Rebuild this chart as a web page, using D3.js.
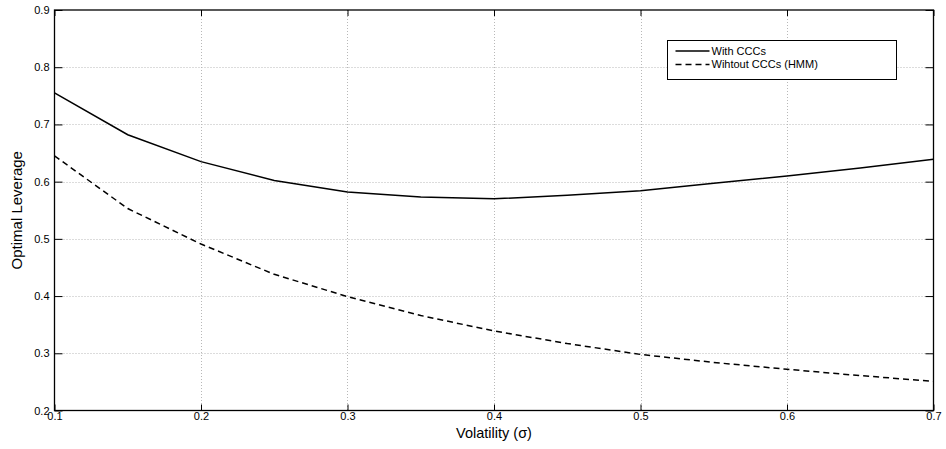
<!DOCTYPE html>
<html>
  <head>
    <meta charset="utf-8">
    <title>Optimal leverage vs volatility</title>
    <script src="https://d3js.org/d3.v7.min.js"></script>
    <style>
      body { margin: 0; background: #fff; }
      svg { display: block; font-family: "Liberation Sans", Arial, sans-serif; }
      .grid line { stroke: #b8b8b8; stroke-width: 1; stroke-dasharray: 1 2; }
      .tick text { font-size: 11px; fill: #000; }
    </style>
  </head>
  <body>
    <svg id="chart" width="946" height="449"></svg>
    <script>
      // chart data
      var sigma = [0.1, 0.15, 0.2, 0.25, 0.3, 0.35, 0.4, 0.45, 0.5, 0.55, 0.6, 0.65, 0.7];
      var withCCC = [0.755, 0.682, 0.635, 0.602, 0.582, 0.573, 0.570, 0.576, 0.584, 0.597, 0.610, 0.624, 0.639];
      var withoutCCC = [0.645, 0.553, 0.491, 0.438, 0.399, 0.366, 0.339, 0.317, 0.298, 0.284, 0.272, 0.261, 0.251];
      var xTicks = [0.1, 0.2, 0.3, 0.4, 0.5, 0.6, 0.7];
      var yTicks = [0.2, 0.3, 0.4, 0.5, 0.6, 0.7, 0.8, 0.9];
      var seriesNames = ["With CCCs", "Wihtout CCCs (HMM)"];

      var svg = d3.select("#chart");
      var margin = { left: 54.5, right: 12.5, top: 10, bottom: 38.5 };
      var width = 946, height = 449;

      var x = d3.scaleLinear().domain([0.1, 0.7]).range([margin.left, width - margin.right]);
      var y = d3.scaleLinear().domain([0.2, 0.9]).range([height - margin.bottom, margin.top]);

      // grid
      var grid = svg.append("g").classed("grid", true);
      grid.selectAll(".gx")
        .data(xTicks.slice(1, -1))
        .enter().append("line")
          .attr("x1", function(d) { return Math.round(x(d)) + 0.5; })
          .attr("x2", function(d) { return Math.round(x(d)) + 0.5; })
          .attr("y1", y(0.9)).attr("y2", y(0.2));
      grid.selectAll(".gy")
        .data(yTicks.slice(1, -1))
        .enter().append("line")
          .attr("y1", function(d) { return Math.round(y(d)) + 0.5; })
          .attr("y2", function(d) { return Math.round(y(d)) + 0.5; })
          .attr("x1", x(0.1)).attr("x2", x(0.7));

      // axes (ticks inside, box style)
      var fmt = d3.format(".1f");
      svg.append("g")
        .attr("transform", "translate(0," + y(0.2) + ")")
        .call(d3.axisBottom(x).tickValues(xTicks).tickFormat(fmt).tickSize(-6).tickPadding(2).tickSizeOuter(0))
        .call(function(g) { g.select(".domain").remove(); });
      svg.append("g")
        .attr("transform", "translate(0," + y(0.9) + ")")
        .call(d3.axisTop(x).tickValues(xTicks).tickFormat("").tickSize(-6).tickSizeOuter(0))
        .call(function(g) { g.select(".domain").remove(); });
      svg.append("g")
        .attr("transform", "translate(" + x(0.1) + ",0)")
        .call(d3.axisLeft(y).tickValues(yTicks).tickFormat(fmt).tickSize(-8).tickPadding(5).tickSizeOuter(0))
        .call(function(g) { g.select(".domain").remove(); });
      svg.append("g")
        .attr("transform", "translate(" + x(0.7) + ",0)")
        .call(d3.axisRight(y).tickValues(yTicks).tickFormat("").tickSize(-8).tickSizeOuter(0))
        .call(function(g) { g.select(".domain").remove(); });
      svg.selectAll(".tick line").attr("stroke", "#000");

      svg.append("rect")
        .attr("x", x(0.1)).attr("y", y(0.9))
        .attr("width", x(0.7) - x(0.1)).attr("height", y(0.2) - y(0.9))
        .attr("fill", "none").attr("stroke", "#000").attr("stroke-width", 1.3);

      // lines
      var line = d3.line()
        .x(function(d) { return x(d[0]); })
        .y(function(d) { return y(d[1]); });
      svg.append("path")
        .datum(d3.zip(sigma, withCCC))
        .attr("d", line)
        .attr("fill", "none").attr("stroke", "#000").attr("stroke-width", 1.5);
      svg.append("path")
        .datum(d3.zip(sigma, withoutCCC))
        .attr("d", line)
        .attr("fill", "none").attr("stroke", "#000").attr("stroke-width", 1.5)
        .attr("stroke-dasharray", "6 4");

      // axis labels
      svg.append("text")
        .attr("x", x(0.4)).attr("y", 438)
        .attr("text-anchor", "middle")
        .style("font-size", "14.5px")
        .text("Volatility (\u03C3)");
      svg.append("text")
        .attr("transform", "translate(22," + ((y(0.2) + y(0.9)) / 2) + ") rotate(-90)")
        .attr("text-anchor", "middle")
        .style("font-size", "15px")
        .text("Optimal Leverage");

      // legend
      var legend = svg.append("g").attr("transform", "translate(667.5,40.5)");
      legend.append("rect")
        .attr("width", 229).attr("height", 39)
        .attr("fill", "#fff").attr("stroke", "#000").attr("stroke-width", 1);
      var rows = legend.selectAll(".row")
        .data(seriesNames)
        .enter().append("g")
          .attr("transform", function(d, i) { return "translate(0," + (10.5 + i * 13.5) + ")"; });
      rows.append("line")
        .attr("x1", 8).attr("x2", 42)
        .attr("stroke", "#000").attr("stroke-width", 1.5)
        .attr("stroke-dasharray", function(d, i) { return i ? "6 4" : null; });
      rows.append("text")
        .attr("x", 44).attr("dy", "0.35em")
        .style("font-size", "11px")
        .text(function(d) { return d; });
    </script>
  </body>
</html>
